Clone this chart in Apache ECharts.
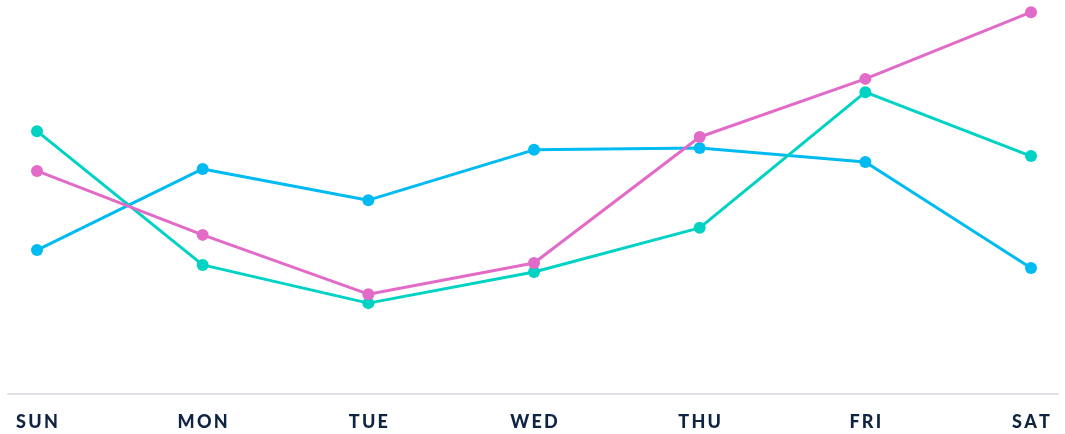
<!DOCTYPE html>
<html>
<head>
<meta charset="utf-8">
<script src="https://cdn.jsdelivr.net/npm/echarts@6/dist/echarts.min.js"></script>
<style>html,body{margin:0;padding:0;background:#fff}#c{width:1065px;height:434px}</style>
</head>
<body>
<div id="c"></div>
<script>
const categories = ['SUN', 'MON', 'TUE', 'WED', 'THU', 'FRI', 'SAT'];
const tealValues = [67.4, 33.1, 23.3, 31.3, 42.6, 77.4, 61.0];
const blueValues = [36.9, 57.7, 49.7, 62.6, 63.1, 59.5, 32.3];
const pinkValues = [57.2, 40.8, 25.6, 33.6, 65.9, 80.8, 97.9];

const chart = echarts.init(document.getElementById('c'), null, {renderer: 'canvas'});
function spaced(s) { return s.split('').join('\u2009'); }
function mk(name, data, color) {
  return {
    name, type: 'line', data, xAxisIndex: 0, yAxisIndex: 0,
    symbol: 'circle', symbolSize: 12, showSymbol: true,
    lineStyle: {color, width: 3}, itemStyle: {color},
    emphasis: {disabled: true}
  };
}
chart.setOption({
  animation: false,
  grid: [
    {left: 37, right: 34, top: 4, bottom: 40},
    {left: 8, right: 7, top: 4, bottom: 40}
  ],
  xAxis: [
    {
      gridIndex: 0, type: 'category', data: categories, boundaryGap: false,
      axisLine: {show: false}, axisTick: {show: false},
      axisLabel: {
        margin: 19, color: '#0f2443', fontSize: 18, fontWeight: 900,
        fontFamily: 'Lato', formatter: v => spaced(v)
      },
      splitLine: {show: false}
    },
    {
      gridIndex: 1, type: 'category', data: categories, boundaryGap: false,
      axisLine: {show: true, lineStyle: {color: '#dde1e7', width: 2}},
      axisTick: {show: false}, axisLabel: {show: false}, splitLine: {show: false}
    }
  ],
  yAxis: [
    {gridIndex: 0, type: 'value', min: 0, max: 100, show: false, splitLine: {show: false}},
    {gridIndex: 1, type: 'value', min: 0, max: 100, show: false, splitLine: {show: false}}
  ],
  series: [
    mk('Blue', blueValues, '#00bbf2'),
    mk('Teal', tealValues, '#00d2c4'),
    mk('Pink', pinkValues, '#e36bc8')
  ]
});
</script>
</body>
</html>
